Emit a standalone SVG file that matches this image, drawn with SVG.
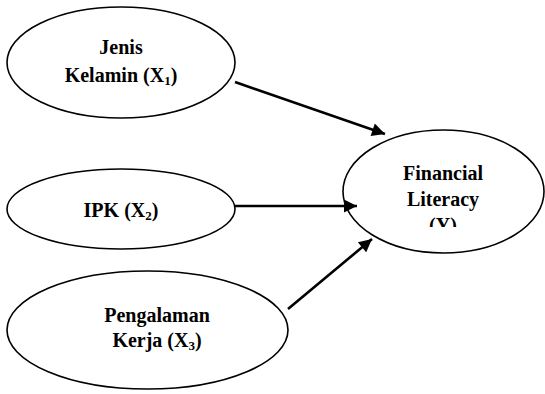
<svg xmlns="http://www.w3.org/2000/svg" width="545" height="394" viewBox="0 0 545 394">
<style>
.node ellipse{fill:#fff;stroke:#000;stroke-width:1.6}
.lbl{font-family:"Liberation Serif","Times New Roman",serif;font-weight:bold;font-size:20px;fill:#000;text-anchor:middle}
.sub{font-size:13px}
.conn line{stroke:#000;stroke-width:2.6}
</style>
<defs>
<marker id="ah" viewBox="0 0 10 10" refX="10" refY="5" markerWidth="6" markerHeight="5" markerUnits="strokeWidth" orient="auto">
<path d="M0,0 L10,5 L0,10 Z" fill="#000"/>
</marker>
<clipPath id="clipY"><rect x="340" y="120" width="205" height="107"/></clipPath>
</defs>
<rect width="545" height="394" fill="#fff"/>
<g id="n1" class="node">
<ellipse cx="121" cy="62.5" rx="114" ry="55.5"/>
<text class="lbl" x="121" y="54">Jenis</text>
<text class="lbl" x="121" y="82">Kelamin (X<tspan class="sub" dy="3">1</tspan><tspan dy="-3">)</tspan></text>
</g>
<g id="n2" class="node">
<ellipse cx="121" cy="209" rx="114" ry="40"/>
<text class="lbl" x="121" y="217">IPK (X<tspan class="sub" dy="3">2</tspan><tspan dy="-3">)</tspan></text>
</g>
<g id="n3" class="node">
<ellipse cx="147.5" cy="330" rx="140.5" ry="59"/>
<text class="lbl" x="157" y="322">Pengalaman</text>
<text class="lbl" x="157" y="347">Kerja (X<tspan class="sub" dy="3">3</tspan><tspan dy="-3">)</tspan></text>
</g>
<g id="n4" class="node">
<ellipse cx="443.5" cy="191.5" rx="100.5" ry="61.5"/>
<g clip-path="url(#clipY)">
<text class="lbl" x="443" y="180">Financial</text>
<text class="lbl" x="443" y="206">Literacy</text>
<text class="lbl" x="443" y="232">(Y)</text>
</g>
</g>
<g id="connectors" class="conn">
<line x1="235" y1="82" x2="385" y2="134" marker-end="url(#ah)"/>
<line x1="235" y1="206" x2="357" y2="206" marker-end="url(#ah)"/>
<line x1="288" y1="309" x2="372" y2="239" marker-end="url(#ah)"/>
</g>
</svg>
